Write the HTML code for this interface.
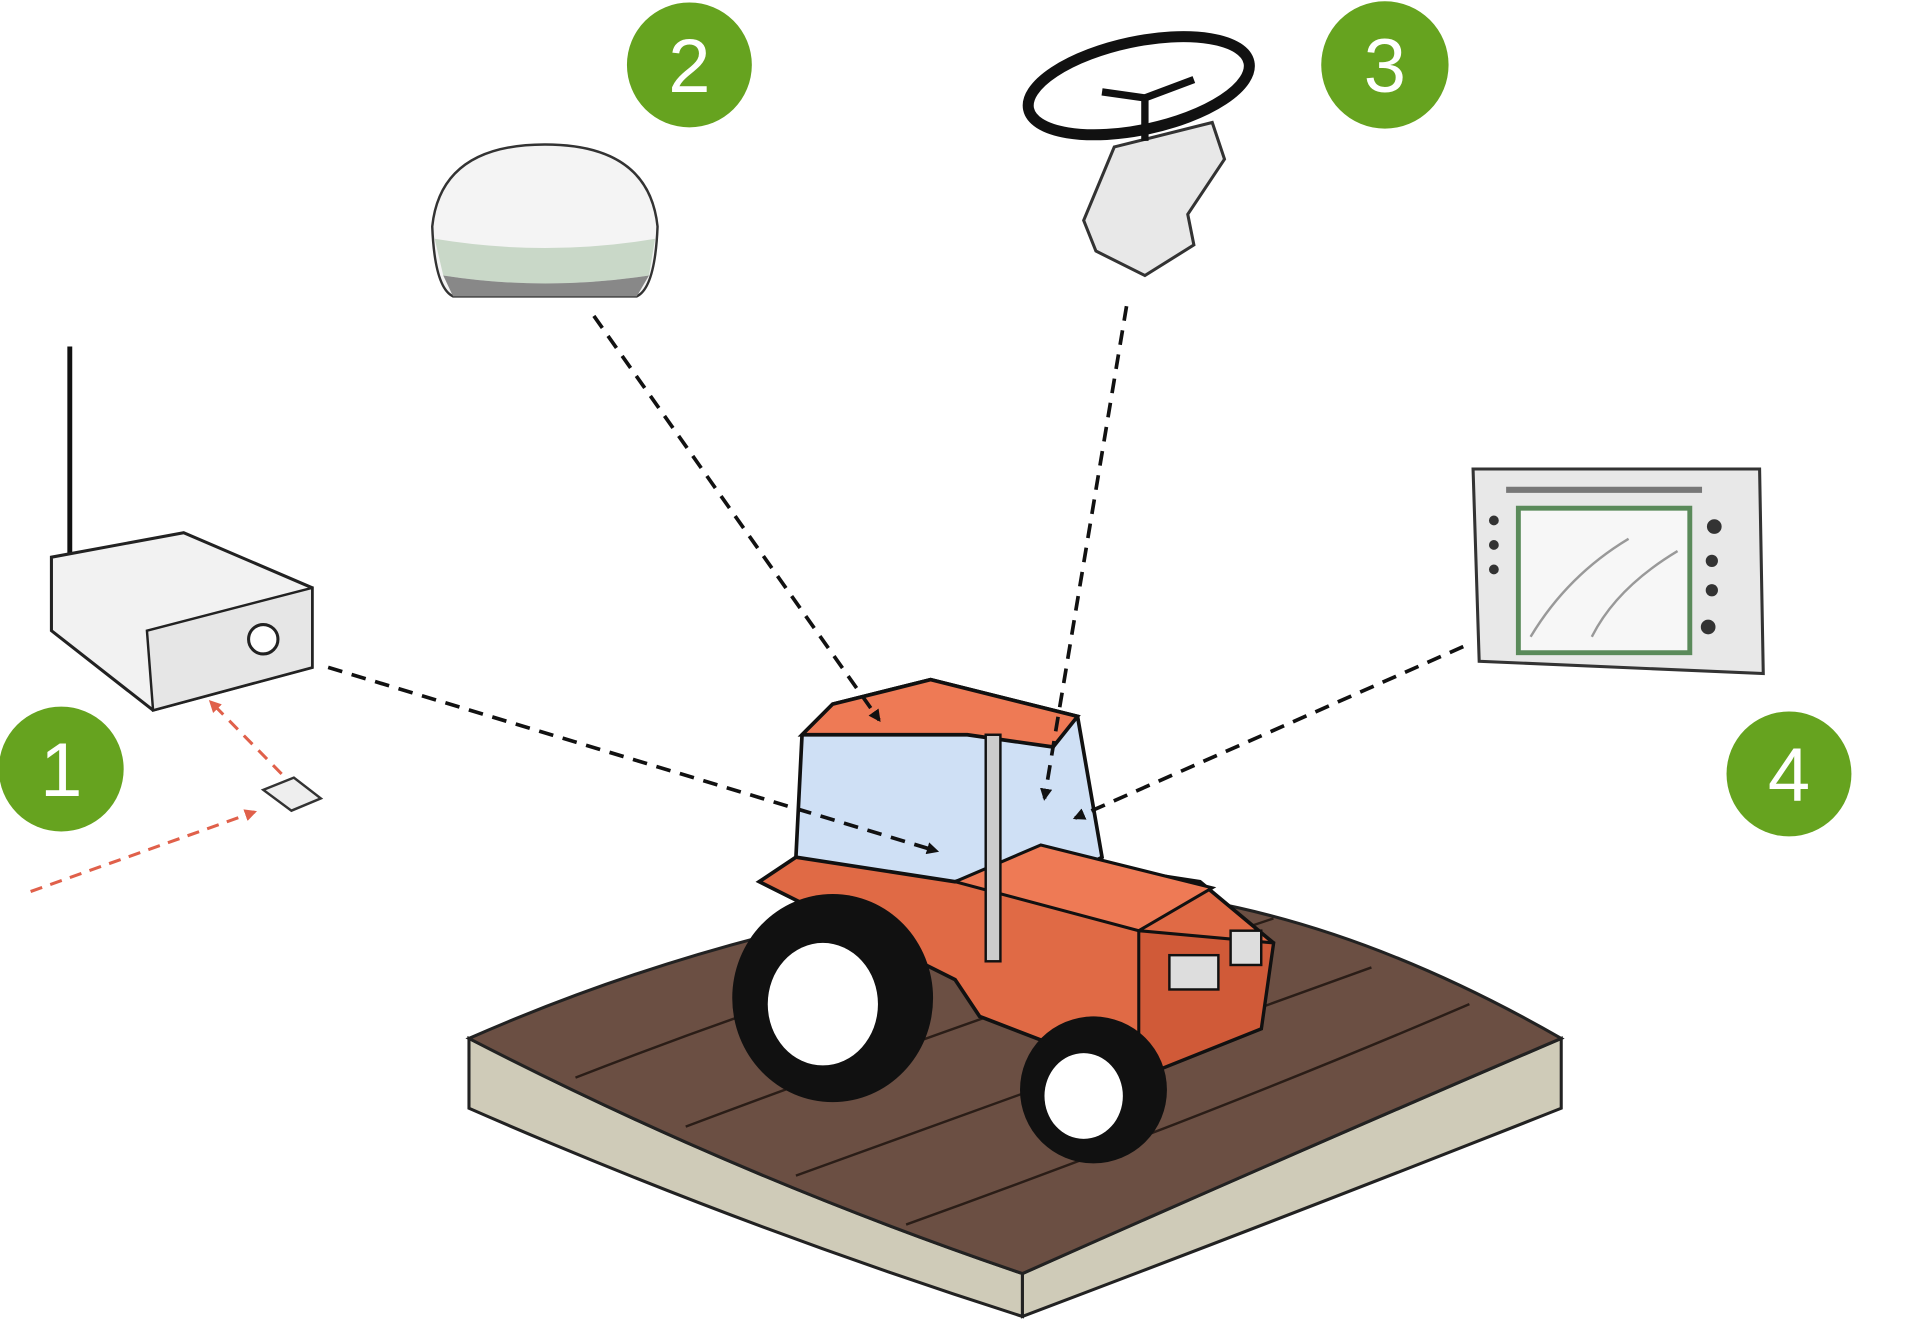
<!DOCTYPE html>
<html><head><meta charset="utf-8"><style>html,body{margin:0;padding:0;background:#fff}svg{display:block}</style></head>
<body>
<svg width="1920" height="1325" viewBox="0 0 1568 1082" preserveAspectRatio="none" xmlns="http://www.w3.org/2000/svg">
<defs>
<marker id="ah" markerWidth="10" markerHeight="10" refX="8" refY="5" orient="auto" markerUnits="userSpaceOnUse"><path d="M0,0 L10,5 L0,10 Z" fill="#111"/></marker>
<marker id="ar" markerWidth="10" markerHeight="10" refX="8" refY="5" orient="auto" markerUnits="userSpaceOnUse"><path d="M0,0 L10,5 L0,10 Z" fill="#e0604a"/></marker>
</defs>
<rect width="1568" height="1082" fill="#fff"/>
<!-- field -->
<path d="M383,848 L383,905 Q600,1000 835,1075 L835,1040 Q600,960 383,848 Z" fill="#cfcbb8" stroke="#222" stroke-width="2.5"/>
<path d="M835,1040 Q1060,940 1275,848 L1275,905 Q1060,990 835,1075 Z" fill="#cfcbb8" stroke="#222" stroke-width="2.5"/>
<path d="M383,848 Q560,770 760,735 Q1000,690 1275,848 Q1060,940 835,1040 Q600,960 383,848 Z" fill="#6b4f43" stroke="#222" stroke-width="2.5"/>
<g stroke="#2a1d17" stroke-width="2" fill="none">
<path d="M470,880 Q700,790 960,720"/><path d="M560,920 Q800,830 1040,750"/><path d="M650,960 Q900,870 1120,790"/><path d="M740,1000 Q990,910 1200,820"/>
</g>
<!-- tractor -->
<path d="M655,600 L680,575 L760,555 L880,585 L900,700 L770,770 L650,700 Z" fill="#cfe0f5" stroke="#111" stroke-width="3"/>
<path d="M655,600 L680,575 L760,555 L880,585 L860,610 L790,600 Z" fill="#ee7a55" stroke="#111" stroke-width="3"/>
<path d="M620,720 L650,700 L780,720 L850,700 L980,720 L1040,770 L1030,840 L930,880 L800,830 L780,800 Z" fill="#e06a45" stroke="#111" stroke-width="3"/>
<path d="M780,720 L850,690 L990,725 L930,760 Z" fill="#ee7a55" stroke="#111" stroke-width="2.5"/>
<path d="M930,760 L1040,770 L1030,840 L930,880 Z" fill="#d05a38" stroke="#111" stroke-width="2.5"/>
<rect x="955" y="780" width="40" height="28" fill="#ddd" stroke="#111" stroke-width="2"/>
<rect x="1005" y="760" width="25" height="28" fill="#ddd" stroke="#111" stroke-width="2"/>
<rect x="805" y="600" width="12" height="185" fill="#ccc" stroke="#111" stroke-width="2"/>
<ellipse cx="680" cy="815" rx="82" ry="85" fill="#111"/>
<ellipse cx="672" cy="820" rx="45" ry="50" fill="#fff"/>
<ellipse cx="893" cy="890" rx="60" ry="60" fill="#111"/>
<ellipse cx="885" cy="895" rx="32" ry="35" fill="#fff"/>
<!-- dashed connectors -->
<g stroke="#111" stroke-width="3" stroke-dasharray="12,8" fill="none">
<line x1="268" y1="545" x2="765" y2="695" marker-end="url(#ah)"/><line x1="485" y1="258" x2="718" y2="588" marker-end="url(#ah)"/>
<line x1="920" y1="250" x2="853" y2="652" marker-end="url(#ah)"/><line x1="1195" y1="528" x2="878" y2="668" marker-end="url(#ah)"/>
</g>
<g stroke="#e0604a" stroke-width="2.5" stroke-dasharray="10,7" fill="none">
<line x1="25" y1="728" x2="208" y2="663" marker-end="url(#ar)"/><line x1="230" y1="632" x2="172" y2="573" marker-end="url(#ar)"/>
</g>
<!-- router -->
<line x1="57" y1="283" x2="57" y2="452" stroke="#111" stroke-width="4"/>
<path d="M42,455 L150,435 L255,480 L255,545 L125,580 L42,515 Z" fill="#f2f2f2" stroke="#222" stroke-width="2.5"/>
<path d="M120,515 L255,480 L255,545 L125,580 Z" fill="#e6e6e6" stroke="#222" stroke-width="2"/>
<circle cx="215" cy="522" r="12" fill="#fff" stroke="#222" stroke-width="2.5"/>
<path d="M215,645 L240,635 L262,652 L238,662 Z" fill="#eee" stroke="#333" stroke-width="2"/>
<!-- dome -->
<path d="M353,185 Q360,118 445,118 Q530,118 537,185 Q535,235 520,242 L370,242 Q355,235 353,185 Z" fill="#f4f4f4" stroke="#333" stroke-width="2"/>
<path d="M355,195 Q445,210 535,195 L530,225 Q445,238 362,225 Z" fill="#c9d8c8"/>
<path d="M362,225 Q445,238 530,225 L520,242 L370,242 Z" fill="#888"/>
<!-- steering wheel -->
<path d="M910,120 L990,100 L1000,130 L970,175 L975,200 L935,225 L895,205 L885,180 Z" fill="#e8e8e8" stroke="#333" stroke-width="2.5"/>
<ellipse cx="930" cy="70" rx="92" ry="36" transform="rotate(-12 930 70)" fill="none" stroke="#111" stroke-width="9"/>
<g stroke="#111" stroke-width="6"><line x1="935" y1="80" x2="935" y2="115"/><line x1="935" y1="80" x2="900" y2="75"/><line x1="935" y1="80" x2="975" y2="65"/></g>
<!-- display -->
<path d="M1203,383 L1437,383 L1440,550 L1208,540 Z" fill="#e8e8e8" stroke="#333" stroke-width="2.5"/>
<rect x="1240" y="415" width="140" height="118" fill="#f7f7f7" stroke="#5a8a5a" stroke-width="4"/>
<path d="M1250,520 Q1280,470 1330,440 M1300,520 Q1320,480 1370,450" stroke="#999" stroke-width="2" fill="none"/>
<g fill="#333"><circle cx="1220" cy="425" r="4"/><circle cx="1220" cy="445" r="4"/><circle cx="1220" cy="465" r="4"/><circle cx="1400" cy="430" r="6"/><circle cx="1398" cy="458" r="5"/><circle cx="1398" cy="482" r="5"/><circle cx="1395" cy="512" r="6"/></g>
<line x1="1230" y1="400" x2="1390" y2="400" stroke="#777" stroke-width="5"/>
<!-- numbered badges -->
<g fill="#66a31f"><circle cx="50" cy="628" r="51"/><circle cx="563" cy="53" r="51"/><circle cx="1131" cy="53" r="52"/><circle cx="1461" cy="632" r="51"/></g>
<g fill="#fff" font-family="Liberation Sans, sans-serif" font-size="62" text-anchor="middle">
<text x="50" y="650">1</text><text x="563" y="75">2</text><text x="1131" y="75">3</text><text x="1461" y="654">4</text>
</g>
</svg>
</body></html>
